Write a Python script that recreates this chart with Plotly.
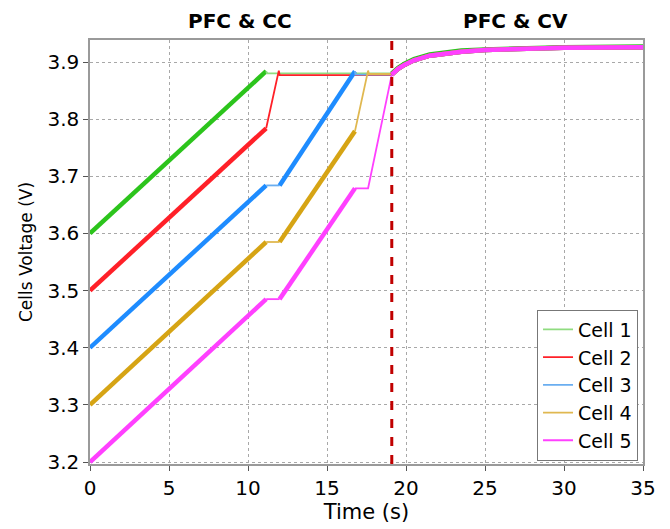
import plotly.graph_objects as go

# ---------------- data ----------------
cell_names = ["Cell 1", "Cell 2", "Cell 3", "Cell 4", "Cell 5"]

# constant-current phase (time in s, voltage in V)
cc_t = [
    [0, 11.15, 11.2, 19.1],
    [0, 11.15, 11.95, 12.0, 19.1],
    [0, 11.15, 12.0, 16.77, 16.8, 19.1],
    [0, 11.15, 12.0, 16.77, 17.6, 17.65, 19.1],
    [0, 11.15, 12.0, 16.77, 17.6, 19.1],
]
cc_v = [
    [3.600, 3.884, 3.880, 3.880],
    [3.500, 3.784, 3.885, 3.877, 3.877],
    [3.400, 3.684, 3.684, 3.884, 3.878, 3.878],
    [3.300, 3.585, 3.585, 3.779, 3.885, 3.879, 3.879],
    [3.200, 3.485, 3.485, 3.679, 3.679, 3.878],
]

# constant-voltage phase
cv_t = [19.1, 19.5, 19.9, 20.5, 21.5, 22.5, 23.5, 25, 27, 30, 35]
cv_v = [
    [3.880, 3.890, 3.897, 3.905, 3.913, 3.917, 3.920, 3.922, 3.924, 3.926, 3.927],
    [3.878, 3.888, 3.895, 3.903, 3.911, 3.915, 3.918, 3.921, 3.923, 3.925, 3.926],
    [3.878, 3.888, 3.895, 3.903, 3.911, 3.915, 3.918, 3.921, 3.923, 3.925, 3.926],
    [3.878, 3.888, 3.895, 3.903, 3.911, 3.915, 3.918, 3.921, 3.923, 3.925, 3.926],
    [3.878, 3.888, 3.895, 3.903, 3.911, 3.915, 3.918, 3.921, 3.923, 3.925, 3.926],
]

switch_time = 19.1
x_ticks = [0, 5, 10, 15, 20, 25, 30, 35]
y_ticks = [3.2, 3.3, 3.4, 3.5, 3.6, 3.7, 3.8, 3.9]
phase_labels = ["PFC & CC", "PFC & CV"]

# ---------------- style ----------------
colors = ["#2cc41c", "#ff2028", "#1e8cff", "#d6a414", "#ff40ff"]
thin_colors = ["#8fdc80", "#ff2028", "#6aaef0", "#e0b850", "#ff40ff"]
THICK, THIN = 4.5, 1.8
# segment index ranges (start point idx, end point idx, thick?)
segments = [
    [(0, 1, True), (1, 3, False)],
    [(0, 1, True), (1, 4, False)],
    [(0, 1, True), (1, 2, False), (2, 3, True), (3, 5, False)],
    [(0, 1, True), (1, 2, False), (2, 3, True), (3, 6, False)],
    [(0, 1, True), (1, 2, False), (2, 3, True), (3, 5, False)],
]

FONT = "DejaVu Sans"
fig = go.Figure()

# thin / thick segments of the CC phase
for i in range(5):
    legend_done = False
    for (a, b, thick) in segments[i]:
        show = (not thick) and (not legend_done)
        if show:
            legend_done = True
        fig.add_trace(go.Scatter(
            x=cc_t[i][a:b + 1], y=cc_v[i][a:b + 1], mode="lines",
            line=dict(color=colors[i] if thick else thin_colors[i],
                      width=THICK if thick else THIN),
            name=cell_names[i], legendgroup=cell_names[i],
            legendrank=i + 1, showlegend=show, hoverinfo="skip"))

# CV phase
for i in range(5):
    fig.add_trace(go.Scatter(
        x=cv_t, y=cv_v[i], mode="lines",
        line=dict(color=colors[i], width=THICK),
        name=cell_names[i], legendgroup=cell_names[i],
        showlegend=False, hoverinfo="skip"))

# switching instant
fig.add_shape(type="line", x0=switch_time, x1=switch_time, xref="x",
              y0=0, y1=1, yref="paper",
              line=dict(color="#c00000", width=3, dash="dash"))

# phase labels
fig.add_annotation(x=9.5, y=1.0, xref="x", yref="paper", yanchor="bottom",
                   yshift=5, text="<b>" + phase_labels[0] + "</b>",
                   showarrow=False, font=dict(family=FONT, size=20, color="black"))
fig.add_annotation(x=26.9, y=1.0, xref="x", yref="paper", yanchor="bottom",
                   yshift=5, text="<b>" + phase_labels[1] + "</b>",
                   showarrow=False, font=dict(family=FONT, size=20, color="black"))

axis_common = dict(
    showline=True, linecolor="#9a9a9a", linewidth=1.5, mirror=True,
    ticks="outside", ticklen=5, tickcolor="#555555", tickwidth=1,
    showgrid=True, gridcolor="#a8a8a8", griddash="dot", gridwidth=1,
    zeroline=False, tickfont=dict(family=FONT, size=20, color="black"),
    automargin=False,
)

fig.update_layout(
    width=670, height=529,
    margin=dict(l=82, r=35, t=32, b=73),
    plot_bgcolor="white", paper_bgcolor="white",
    font=dict(family=FONT, color="black"),
    xaxis=dict(range=[0, 35], tickvals=x_ticks, ticktext=[str(v) for v in x_ticks],
               title=dict(text="Time (s)", font=dict(family=FONT, size=21), standoff=2),
               **axis_common),
    yaxis=dict(range=[3.1965, 3.9385], tickvals=y_ticks,
               ticktext=["%.1f" % v for v in y_ticks],
               title=dict(text="Cells Voltage (V)", font=dict(family=FONT, size=17), standoff=10),
               **axis_common),
    legend=dict(x=0.991, y=0.008, xanchor="right", yanchor="bottom",
                bgcolor="white", bordercolor="#777777", borderwidth=1,
                font=dict(family=FONT, size=19, color="black"),
                itemwidth=30, tracegroupgap=0, traceorder="normal"),
    showlegend=True,
)

fig.write_html("out.html")
